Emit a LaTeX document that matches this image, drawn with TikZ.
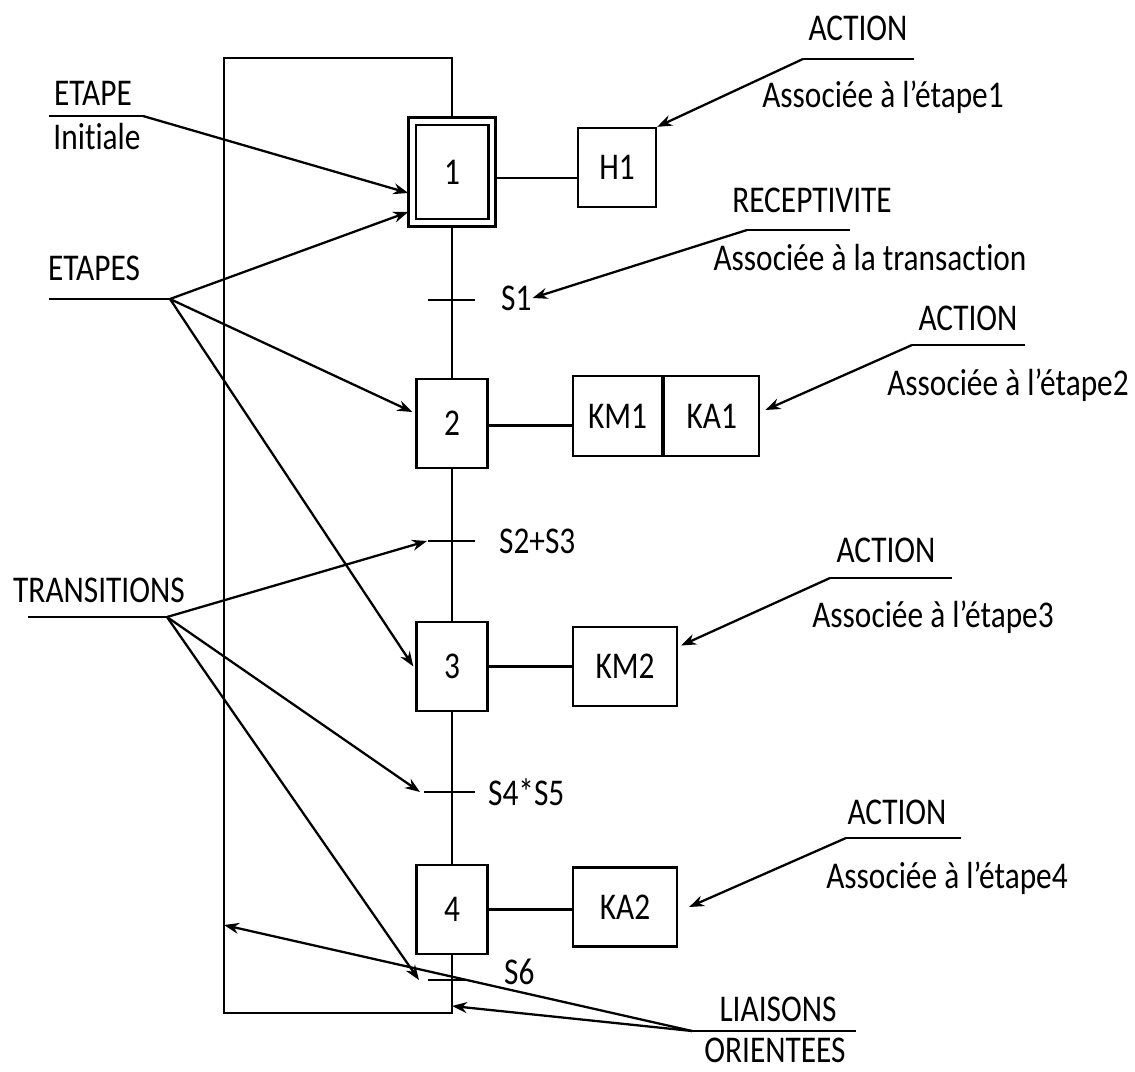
\documentclass[tikz,border=0pt]{standalone}
\usepackage{fontspec}
\setmainfont{Carlito}[FakeStretch=0.83, Ligatures=NoCommon]
\usetikzlibrary{arrows.meta}

\begin{document}
\begin{tikzpicture}[x=0.02cm, y=-0.02cm, >={Stealth[length=3mm,width=2.2mm]}, line width=1.3pt,
  every node/.style={font=\fontsize{21.5}{23}\selectfont, inner sep=0pt},
  etape/.style={draw, minimum width=1.42cm, minimum height=1.78cm},
  action/.style={draw, minimum height=1.58cm}]

\useasboundingbox (0,0) rectangle (1135,1071);

% Etapes
\node[etape, minimum width=1.6cm, minimum height=2.04cm, double, double distance=0.1cm, outer sep=0.075cm] (e1) at (452,172) {1};
\node[etape] (e2) at (452,423.5) {2};
\node[etape] (e3) at (452,666.5) {3};
\node[etape] (e4) at (452,909.5) {4};

% Transitions
\coordinate (t1) at (452,300);
\coordinate (t2) at (452,541);
\coordinate (t3) at (452,792);
\coordinate (t4) at (452,980);
\node[anchor=west] (s1) at (500,298) {S1};
\node[anchor=west] (s2) at (498,541) {S2+S3};
\node[anchor=west] (s3) at (487,792) {S4*S5};
\node[anchor=west] (s4) at (503,972) {S6};

% Actions
\node[action, minimum width=1.56cm] (h1) at (617,167.5) {H1};
\node[action, minimum width=1.78cm, minimum height=1.6cm] (km1) at (617.5,416) {KM1};
\node[action, minimum width=1.9cm, minimum height=1.6cm, anchor=west] (ka1) at (km1.east) {KA1};
\node[action, minimum width=2.08cm] (km2) at (625,666.5) {KM2};
\node[action, minimum width=2.08cm] (ka2) at (625,907) {KA2};

% Liaisons
\coordinate (lc) at (452,1013);
\coordinate (lb) at (224,1013);
\coordinate (lt) at (224,58);
\draw (e1) -- (e2) -- (e3) -- (e4);
\draw (e4.south) -- (lc) -- (lb) -- (lt) -| (e1.north);
\draw (e1.east) ++(0,6) -- (h1.west |- 0,178);
\draw (e2.east) ++(0,2) -- (km1.west |- 0,425.5);
\draw (e3.east) -- (e3.east -| km2.west);
\draw (e4.east) -- (e4.east -| ka2.west);
\draw (t1) ++(-24,0) -- ++(47,0);
\draw (t2) ++(-24,0) -- ++(47,0);
\draw (t3) ++(-28,0) -- ++(51,0);
\draw (t4) ++(-24,0) -- ++(38,0);

% Legendes gauche
\node (etape) at (93,93) {ETAPE};
\node (initiale) at (97,137) {Initiale};
\coordinate (u1a) at (49,116);
\coordinate (u1b) at (143,116);
\draw (u1a) -- (u1b);
\node (etapes) at (94,268) {ETAPES};
\coordinate (u2a) at (49,299);
\coordinate (u2b) at (170,299);
\draw (u2a) -- (u2b);
\node (transitions) at (99,590) {TRANSITIONS};
\coordinate (u3a) at (28,617);
\coordinate (u3b) at (167,617);
\draw (u3a) -- (u3b);
\node (liaisons) at (778,1009) {LIAISONS};
\node (orientees) at (775,1050) {ORIENTEES};
\coordinate (u4a) at (692,1031);
\coordinate (u4b) at (856,1031);
\draw (u4a) -- (u4b);

% Legendes droite
\node (action1) at (858,28) {ACTION};
\node (assoc1) at (883,97) {Associée à l’étape1};
\coordinate (a1a) at (803,59);
\coordinate (a1b) at (914,59);
\draw (a1a) -- (a1b);
\node (recept) at (812,200) {RECEPTIVITE};
\node (assoct) at (870,258) {Associée à la transaction};
\coordinate (r1a) at (747,230);
\coordinate (r1b) at (850,230);
\draw (r1a) -- (r1b);
\node (action2) at (968,318) {ACTION};
\node (assoc2) at (1008,385) {Associée à l’étape2};
\coordinate (a2a) at (912,345);
\coordinate (a2b) at (1025,345);
\draw (a2a) -- (a2b);
\node (action3) at (886,550) {ACTION};
\node (assoc3) at (933,617) {Associée à l’étape3};
\coordinate (a3a) at (830,578);
\coordinate (a3b) at (952,578);
\draw (a3a) -- (a3b);
\node (action4) at (897,812) {ACTION};
\node (assoc4) at (947,878) {Associée à l’étape4};
\coordinate (a4a) at (846,838);
\coordinate (a4b) at (961,838);
\draw (a4a) -- (a4b);

% Fleches
\draw[->] (u1b) -- ([yshift=-0.42cm]e1.west);
\draw[->] (u2b) -- ([yshift=-0.8cm]e1.west);
\draw[->] (u2b) -- ([xshift=-0.06cm, yshift=0.23cm]e2.west);
\draw[->] (u2b) -- ([xshift=-0.04cm]e3.west);
\draw[->] (u3b) -- ([xshift=-0.5cm]t2);
\draw[->] (u3b) -- ([xshift=-0.64cm]t3);
\draw[->] (u3b) -- ([xshift=-0.66cm]t4);
\draw[->] (u4a) -- ([yshift=1.76cm]lb);
\draw[->] (u4a) -- ([yshift=0.14cm]lc);
\draw[->] (a1a) -- (h1.north east);
\draw[->] (r1a) -- (s1.east);
\draw[->] (a2a) -- ([xshift=0.1cm, yshift=0.12cm]ka1.east);
\draw[->] (a3a) -- ([xshift=0.06cm, yshift=0.42cm]km2.east);
\draw[->] (a4a) -- ([xshift=0.22cm]ka2.east);

\end{tikzpicture}
\end{document}
